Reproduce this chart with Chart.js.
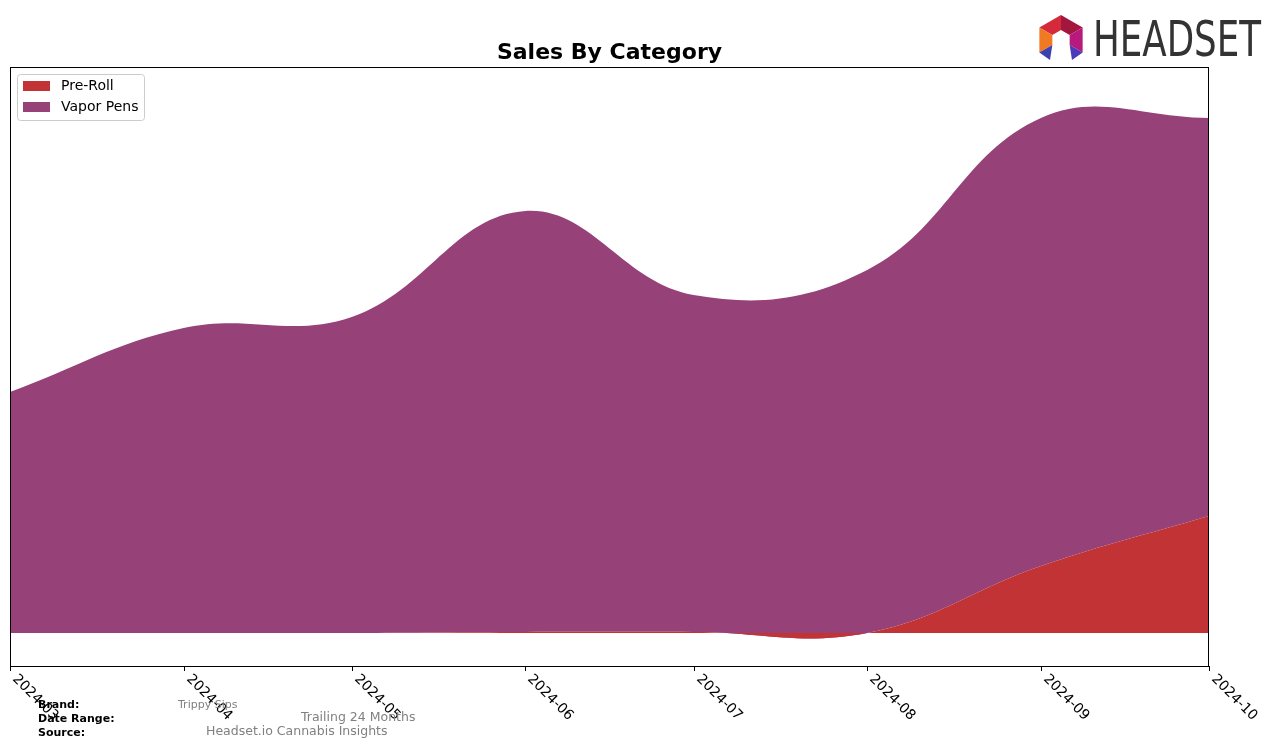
<!DOCTYPE html>
<html>
<head>
<meta charset="utf-8">
<script src="https://cdn.jsdelivr.net/npm/chart.js@4.4.1/dist/chart.umd.min.js"></script>
<style>
  html, body { margin: 0; padding: 0; background: #fff; }
  #wrap { width: 1276px; height: 748px; position: relative; }
</style>
</head>
<body>
<div id="wrap"><canvas id="salesChart" width="1276" height="748"></canvas></div>
<script>
const months = ["2024-03", "2024-04", "2024-05", "2024-06", "2024-07", "2024-08", "2024-09", "2024-10"];
const preRoll = [0, 0, 0, 1, 1, 0, 67, 117];
const vaporPens = [241, 305, 316, 421, 337, 363, 448, 398];
const seriesNames = ["Pre-Roll", "Vapor Pens"];
const seriesColors = ["#c13334", "#964178"];

// day offset of each month from the first one, so ticks follow real month lengths
const start = Date.UTC(2024, 2, 1);
const days = months.map(m => {
  const [y, mo] = m.split("-").map(Number);
  return (Date.UTC(y, mo - 1, 1) - start) / 86400000;
});

const toPoints = arr => arr.map((v, i) => ({ x: days[i], y: v }));

const decor = {
  id: "decor",
  afterDraw(chart) {
    const ctx = chart.ctx;
    const a = chart.chartArea;
    const xs = chart.scales.x;
    ctx.save();

    // frame
    ctx.strokeStyle = "#000";
    ctx.lineWidth = 1;
    ctx.strokeRect(a.left + 0.5, a.top + 0.5, a.right - a.left - 1, a.bottom - a.top);

    // ticks + rotated labels
    ctx.font = "14px 'DejaVu Sans'";
    ctx.fillStyle = "#000";
    months.forEach((m, i) => {
      const x = Math.round(xs.getPixelForValue(days[i])) + 0.5;
      ctx.beginPath();
      ctx.moveTo(x, a.bottom);
      ctx.lineTo(x, a.bottom + 5);
      ctx.stroke();
      ctx.save();
      ctx.translate(x + 9, 672);
      ctx.rotate(Math.PI / 4);
      ctx.textAlign = "left";
      ctx.textBaseline = "top";
      ctx.fillText(m, 0, 0);
      ctx.restore();
    });

    // title
    ctx.font = "bold 22px 'DejaVu Sans'";
    ctx.textAlign = "center";
    ctx.textBaseline = "middle";
    ctx.fillText("Sales By Category", (a.left + a.right) / 2, 53);

    // legend
    ctx.fillStyle = "rgba(255,255,255,0.8)";
    ctx.strokeStyle = "#cccccc";
    ctx.beginPath();
    ctx.roundRect(17.5, 74.5, 127, 46, 3);
    ctx.fill();
    ctx.stroke();
    ctx.font = "14px 'DejaVu Sans'";
    ctx.textAlign = "left";
    seriesNames.forEach((name, i) => {
      const y = 81 + i * 21;
      ctx.fillStyle = seriesColors[i];
      ctx.fillRect(23, y, 27, 10);
      ctx.fillStyle = "#000";
      ctx.fillText(name, 61, y + 5);
    });

    // footer info
    ctx.textBaseline = "middle";
    ctx.font = "bold 11px 'DejaVu Sans'";
    ctx.fillStyle = "#000";
    ctx.fillText("Brand:", 38, 705);
    ctx.fillText("Date Range:", 38, 719);
    ctx.fillText("Source:", 38, 733);
    ctx.fillStyle = "#808080";
    ctx.font = "11px 'DejaVu Sans'";
    ctx.fillText("Trippy Sips", 178, 705);
    ctx.font = "12.5px 'DejaVu Sans'";
    ctx.fillText("Trailing 24 Months", 301, 718);
    ctx.fillText("Headset.io Cannabis Insights", 206, 732);

    // logo icon
    const cx = 1061, cy = 40, R = 25, r = 10;
    const pt = (deg, rad) => [cx + rad * Math.cos(deg * Math.PI / 180), cy + rad * Math.sin(deg * Math.PI / 180)];
    const quad = (d1, d2, col) => {
      const p = [pt(d1, R), pt(d2, R), pt(d2, r), pt(d1, r)];
      ctx.fillStyle = col;
      ctx.beginPath();
      ctx.moveTo(p[0][0], p[0][1]);
      p.slice(1).forEach(q => ctx.lineTo(q[0], q[1]));
      ctx.closePath();
      ctx.fill();
    };
    quad(210, 270, "#d42a3c");
    quad(270, 330, "#a3173f");
    quad(330, 390, "#b8197c");
    quad(150, 210, "#f07a24");
    const leg = (d, tipX, col) => {
      const o = pt(d, R), n = pt(d, r);
      ctx.fillStyle = col;
      ctx.beginPath();
      ctx.moveTo(o[0], o[1]);
      ctx.lineTo(n[0], n[1]);
      ctx.lineTo(tipX, 60);
      ctx.closePath();
      ctx.fill();
    };
    leg(150, 1050, "#3d3fae");
    leg(30, 1072, "#4a3bb8");

    // logo text
    ctx.fillStyle = "#333333";
    ctx.font = "49px 'DejaVu Sans'";
    ctx.textBaseline = "alphabetic";
    const w = ctx.measureText("HEADSET").width;
    ctx.save();
    ctx.translate(1093, 56);
    ctx.scale(168 / w, 1);
    ctx.fillText("HEADSET", 0, 0);
    ctx.restore();

    ctx.restore();
  }
};

new Chart(document.getElementById("salesChart"), {
  type: "line",
  data: {
    datasets: [
      {
        label: seriesNames[0],
        data: toPoints(preRoll),
        backgroundColor: seriesColors[0],
        borderWidth: 0,
        pointRadius: 0,
        fill: "origin",
        tension: 0.4
      },
      {
        label: seriesNames[1],
        data: toPoints(vaporPens),
        backgroundColor: seriesColors[1],
        borderWidth: 0,
        pointRadius: 0,
        fill: "-1",
        tension: 0.4
      }
    ]
  },
  options: {
    responsive: false,
    animation: false,
    layout: { padding: { left: 10, right: 67, top: 67, bottom: 82 } },
    scales: {
      x: { type: "linear", display: false, min: days[0], max: days[days.length - 1] },
      y: { display: false, stacked: true, min: -33, max: 566 }
    },
    plugins: {
      legend: { display: false },
      title: { display: false },
      tooltip: { enabled: false }
    }
  },
  plugins: [decor]
});
</script>
</body>
</html>
